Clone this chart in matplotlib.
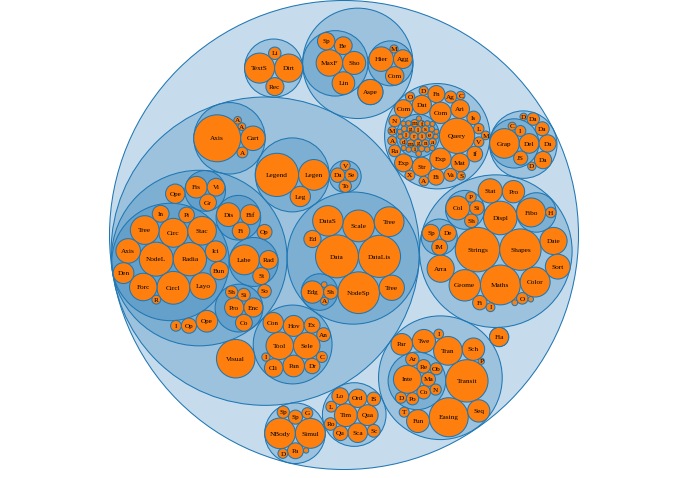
import math
import matplotlib
matplotlib.use("Agg")
import matplotlib.pyplot as plt
from matplotlib.patches import Circle

# ---------------- data (flare class hierarchy, sizes) ----------------
cluster_names = ["AgglomerativeCluster", "CommunityStructure", "HierarchicalCluster", "MergeEdge"]
cluster_sizes = [3938, 3812, 6714, 743]
graph_names = ["BetweennessCentrality", "LinkDistance", "MaxFlowMinCut", "ShortestPaths", "SpanningTree"]
graph_sizes = [3534, 5731, 7840, 5914, 3416]
optimization_names = ["AspectRatioBanker"]
optimization_sizes = [7074]

animate_names = ["Easing", "FunctionSequence", "ISchedulable", "Parallel", "Pause", "Scheduler",
                 "Sequence", "Transition", "Transitioner", "TransitionEvent", "Tween"]
animate_sizes = [17010, 5842, 1041, 5176, 449, 5593, 5534, 9201, 19975, 1116, 6006]
interpolate_names = ["ArrayInterpolator", "ColorInterpolator", "DateInterpolator", "Interpolator",
                     "MatrixInterpolator", "NumberInterpolator", "ObjectInterpolator",
                     "PointInterpolator", "RectangleInterpolator"]
interpolate_sizes = [1983, 2047, 1375, 8746, 2202, 1382, 1629, 1675, 2042]

converters_names = ["Converters", "DelimitedTextConverter", "GraphMLConverter", "IDataConverter", "JSONConverter"]
converters_sizes = [721, 4294, 9800, 1314, 2220]
data_names = ["DataField", "DataSchema", "DataSet", "DataSource", "DataTable", "DataUtil"]
data_sizes = [1759, 2165, 586, 3331, 772, 3322]

display_names = ["DirtySprite", "LineSprite", "RectSprite", "TextSprite"]
display_sizes = [8833, 1732, 3623, 10066]

flex_names = ["FlareVis"]
flex_sizes = [4116]

physics_names = ["DragForce", "GravityForce", "IForce", "NBodyForce", "Particle", "Simulation",
                 "Spring", "SpringForce"]
physics_sizes = [1082, 1336, 319, 10498, 2822, 9983, 2213, 1681]

query_names = ["AggregateExpression", "And", "Arithmetic", "Average", "BinaryExpression", "Comparison",
               "CompositeExpression", "Count", "DateUtil", "Distinct", "Expression", "ExpressionIterator",
               "Fn", "If", "IsA", "Literal", "Match", "Maximum", "Minimum", "Not", "Or", "Query",
               "Range", "StringUtil", "Sum", "Variable", "Variance", "Xor"]
query_sizes = [1616, 1027, 3891, 891, 2893, 5103, 3677, 781, 4141, 933, 5130, 3617, 3240, 2732,
               2039, 1214, 3748, 843, 843, 1554, 970, 13896, 1594, 4130, 791, 1124, 1876, 1101]
methods_names = ["add", "and", "average", "count", "distinct", "div", "eq", "fn", "gt", "gte", "iff",
                 "isa", "lt", "lte", "max", "min", "mod", "mul", "neq", "not", "or", "orderby",
                 "range", "select", "stddev", "sub", "sum", "update", "variance", "where", "xor", "_"]
methods_sizes = [593, 330, 287, 277, 292, 595, 594, 460, 603, 625, 748, 461, 597, 619, 283, 283,
                 591, 603, 599, 386, 323, 307, 772, 296, 363, 600, 280, 307, 335, 299, 354, 264]

scale_names = ["IScaleMap", "LinearScale", "LogScale", "OrdinalScale", "QuantileScale",
               "QuantitativeScale", "RootScale", "Scale", "ScaleType", "TimeScale"]
scale_sizes = [2105, 1316, 3151, 3770, 2435, 4839, 1756, 4268, 1821, 5833]

util_names = ["Arrays", "Colors", "Dates", "Displays", "Filter", "Geometry", "IEvaluable", "IPredicate",
              "IValueProxy", "Maths", "Orientation", "Property", "Shapes", "Sort", "Stats", "Strings"]
util_sizes = [8258, 10001, 8217, 12555, 2324, 10993, 335, 383, 874, 17705, 1486, 5559, 19118,
              6887, 6557, 22026]
heap_names = ["FibonacciHeap", "HeapNode"]
heap_sizes = [9354, 1233]
math_names = ["DenseMatrix", "IMatrix", "SparseMatrix"]
math_sizes = [3165, 2815, 3366]
palette_names = ["ColorPalette", "Palette", "ShapePalette", "SizePalette"]
palette_sizes = [6367, 1229, 2059, 2291]

axis_names = ["Axes", "Axis", "AxisGridLine", "AxisLabel", "CartesianAxes"]
axis_sizes = [1302, 24593, 652, 636, 6703]
controls_names = ["AnchorControl", "ClickControl", "Control", "ControlList", "DragControl",
                  "ExpandControl", "HoverControl", "IControl", "PanZoomControl", "SelectionControl",
                  "TooltipControl"]
controls_sizes = [2138, 3824, 1353, 4665, 2649, 2832, 4896, 763, 5222, 7862, 8435]
visdata_names = ["Data", "DataList", "DataSprite", "EdgeSprite", "NodeSprite", "ScaleBinding",
                 "Tree", "TreeBuilder"]
visdata_sizes = [20544, 19788, 10349, 3301, 19382, 11275, 7147, 9930]
render_names = ["ArrowType", "EdgeRenderer", "IRenderer", "ShapeRenderer"]
render_sizes = [698, 5569, 353, 2247]
events_names = ["DataEvent", "SelectionEvent", "TooltipEvent", "VisualizationEvent"]
events_sizes = [2313, 1880, 1701, 1117]
legend_names = ["Legend", "LegendItem", "LegendRange"]
legend_sizes = [20859, 4614, 10530]
distortion_names = ["BifocalDistortion", "Distortion", "FisheyeDistortion"]
distortion_sizes = [4461, 6314, 3444]
encoder_names = ["ColorEncoder", "Encoder", "PropertyEncoder", "ShapeEncoder", "SizeEncoder"]
encoder_sizes = [3179, 4060, 4138, 1690, 1830]
filter_names = ["FisheyeTreeFilter", "GraphDistanceFilter", "VisibilityFilter"]
filter_sizes = [5219, 3165, 3509]
operator_names = ["IOperator", "Operator", "OperatorList", "OperatorSequence", "OperatorSwitch",
                  "SortOperator"]
operator_sizes = [1286, 2490, 5248, 4190, 2581, 2023]
label_names = ["Labeler", "RadialLabeler", "StackedAreaLabeler"]
label_sizes = [9956, 3899, 3202]
layout_names = ["AxisLayout", "BundledEdgeRouter", "CircleLayout", "CirclePackingLayout",
                "DendrogramLayout", "ForceDirectedLayout", "IcicleTreeLayout", "IndentedTreeLayout",
                "Layout", "NodeLinkTreeLayout", "PieLayout", "RadialTreeLayout", "RandomLayout",
                "StackedAreaLayout", "TreeMapLayout"]
layout_sizes = [6725, 3727, 9317, 12003, 4853, 8411, 4864, 3174, 7881, 12870, 2728, 12348, 870,
                9121, 9191]
vis_names = ["Visualization"]
vis_sizes = [16540]

groups = [
    ("analytics/cluster", cluster_names, cluster_sizes),
    ("analytics/graph", graph_names, graph_sizes),
    ("analytics/optimization", optimization_names, optimization_sizes),
    ("animate", animate_names, animate_sizes),
    ("animate/interpolate", interpolate_names, interpolate_sizes),
    ("data/converters", converters_names, converters_sizes),
    ("data", data_names, data_sizes),
    ("display", display_names, display_sizes),
    ("flex", flex_names, flex_sizes),
    ("physics", physics_names, physics_sizes),
    ("query", query_names, query_sizes),
    ("query/methods", methods_names, methods_sizes),
    ("scale", scale_names, scale_sizes),
    ("util", util_names, util_sizes),
    ("util/heap", heap_names, heap_sizes),
    ("util/math", math_names, math_sizes),
    ("util/palette", palette_names, palette_sizes),
    ("vis/axis", axis_names, axis_sizes),
    ("vis/controls", controls_names, controls_sizes),
    ("vis/data", visdata_names, visdata_sizes),
    ("vis/data/render", render_names, render_sizes),
    ("vis/events", events_names, events_sizes),
    ("vis/legend", legend_names, legend_sizes),
    ("vis/operator/distortion", distortion_names, distortion_sizes),
    ("vis/operator/encoder", encoder_names, encoder_sizes),
    ("vis/operator/filter", filter_names, filter_sizes),
    ("vis/operator", operator_names, operator_sizes),
    ("vis/operator/label", label_names, label_sizes),
    ("vis/operator/layout", layout_names, layout_sizes),
    ("vis", vis_names, vis_sizes),
]


# ---------------- hierarchy ----------------
class Node:
    def __init__(self, name, value=0.0, leaf=False):
        self.name = name
        self.value = value
        self.leaf = leaf
        self.children = []
        self.x = 0.0
        self.y = 0.0
        self.r = 0.0


root = Node("flare")
index = {"": root}


def get_node(path):
    if path in index:
        return index[path]
    parts = path.split("/")
    parent = get_node("/".join(parts[:-1]))
    n = Node(parts[-1])
    parent.children.append(n)
    index[path] = n
    return n


for path, names, sizes in groups:
    p = get_node(path)
    for nm, sz in zip(names, sizes):
        p.children.append(Node(nm, sz, leaf=True))


def sum_sort(n):
    if n.children:
        n.value = sum(sum_sort(c) for c in n.children)
        n.children = sorted(n.children, key=lambda c: -c.value)
    return n.value


sum_sort(root)


# ---------------- d3.pack algorithm ----------------
class C:
    def __init__(self, x, y, r):
        self.x, self.y, self.r = x, y, r


class Link:
    def __init__(self, c):
        self.c = c
        self.next = None
        self.prev = None


def place(b, a, c):
    dx = b.x - a.x
    dy = b.y - a.y
    d2 = dx * dx + dy * dy
    if d2:
        a2 = (a.r + c.r) ** 2
        b2 = (b.r + c.r) ** 2
        if a2 > b2:
            x = (d2 + b2 - a2) / (2 * d2)
            y = math.sqrt(max(0.0, b2 / d2 - x * x))
            c.x = b.x - x * dx - y * dy
            c.y = b.y - x * dy + y * dx
        else:
            x = (d2 + a2 - b2) / (2 * d2)
            y = math.sqrt(max(0.0, a2 / d2 - x * x))
            c.x = a.x + x * dx - y * dy
            c.y = a.y + x * dy + y * dx
    else:
        c.x = a.x + c.r
        c.y = a.y


def intersects(a, b):
    dr = a.r + b.r - 1e-6
    dx = b.x - a.x
    dy = b.y - a.y
    return dr > 0 and dr * dr > dx * dx + dy * dy


def score(node):
    a = node.c
    b = node.next.c
    ab = a.r + b.r
    dx = (a.x * b.r + b.x * a.r) / ab
    dy = (a.y * b.r + b.y * a.r) / ab
    return dx * dx + dy * dy


def encloses_not(a, b):
    dr = a.r - b.r
    dx = b.x - a.x
    dy = b.y - a.y
    return dr < 0 or dr * dr < dx * dx + dy * dy


def encloses_weak(a, b):
    dr = a.r - b.r + max(a.r, b.r, 1) * 1e-9
    dx = b.x - a.x
    dy = b.y - a.y
    return dr > 0 and dr * dr > dx * dx + dy * dy


def encloses_weak_all(a, B):
    return all(encloses_weak(a, b) for b in B)


def basis1(a):
    return C(a.x, a.y, a.r)


def basis2(a, b):
    x1, y1, r1 = a.x, a.y, a.r
    x2, y2, r2 = b.x, b.y, b.r
    x21, y21, r21 = x2 - x1, y2 - y1, r2 - r1
    l = math.sqrt(x21 * x21 + y21 * y21)
    return C((x1 + x2 + x21 / l * r21) / 2, (y1 + y2 + y21 / l * r21) / 2, (l + r1 + r2) / 2)


def basis3(a, b, c):
    x1, y1, r1 = a.x, a.y, a.r
    x2, y2, r2 = b.x, b.y, b.r
    x3, y3, r3 = c.x, c.y, c.r
    a2 = x1 - x2
    a3 = x1 - x3
    b2 = y1 - y2
    b3 = y1 - y3
    c2 = r2 - r1
    c3 = r3 - r1
    d1 = x1 * x1 + y1 * y1 - r1 * r1
    d2 = d1 - x2 * x2 - y2 * y2 + r2 * r2
    d3 = d1 - x3 * x3 - y3 * y3 + r3 * r3
    ab = a3 * b2 - a2 * b3
    xa = (b2 * d3 - b3 * d2) / (ab * 2) - x1
    xb = (b3 * c2 - b2 * c3) / ab
    ya = (a3 * d2 - a2 * d3) / (ab * 2) - y1
    yb = (a2 * c3 - a3 * c2) / ab
    A = xb * xb + yb * yb - 1
    Bq = 2 * (r1 + xa * xb + ya * yb)
    Cq = xa * xa + ya * ya - r1 * r1
    if abs(A) > 1e-6:
        r = -((Bq + math.sqrt(max(0.0, Bq * Bq - 4 * A * Cq))) / (2 * A))
    else:
        r = -(Cq / Bq)
    return C(x1 + xa + xb * r, y1 + ya + yb * r, r)


def enclose_basis(B):
    if len(B) == 1:
        return basis1(B[0])
    if len(B) == 2:
        return basis2(B[0], B[1])
    return basis3(B[0], B[1], B[2])


def extend_basis(B, p):
    if encloses_weak_all(p, B):
        return [p]
    for i in range(len(B)):
        if encloses_not(p, B[i]) and encloses_weak_all(basis2(B[i], p), B):
            return [B[i], p]
    for i in range(len(B) - 1):
        for j in range(i + 1, len(B)):
            if (encloses_not(basis2(B[i], B[j]), p)
                    and encloses_not(basis2(B[i], p), B[j])
                    and encloses_not(basis2(B[j], p), B[i])
                    and encloses_weak_all(basis3(B[i], B[j], p), B)):
                return [B[i], B[j], p]
    return [p]


class LCG:
    def __init__(self):
        self.s = 1

    def __call__(self):
        self.s = (1664525 * self.s + 1013904223) % 4294967296
        return self.s / 4294967296


def shuffle(arr, rnd):
    m = len(arr)
    while m:
        i = int(rnd() * m)
        m -= 1
        arr[m], arr[i] = arr[i], arr[m]
    return arr


def enclose(circles, rnd):
    circles = shuffle(list(circles), rnd)
    n = len(circles)
    i = 0
    B = []
    e = None
    while i < n:
        p = circles[i]
        if e is not None and encloses_weak(e, p):
            i += 1
        else:
            B = extend_basis(B, p)
            e = enclose_basis(B)
            i = 0
    return e


def pack_siblings(circles, rnd):
    n = len(circles)
    if n == 0:
        return 0
    a = circles[0]
    a.x = 0.0
    a.y = 0.0
    if n == 1:
        return a.r
    b = circles[1]
    a.x = -b.r
    b.x = a.r
    b.y = 0.0
    if n == 2:
        return a.r + b.r
    place(b, a, circles[2])
    a, b, c = Link(a), Link(b), Link(circles[2])
    a.next = b
    c.prev = b
    b.next = c
    a.prev = c
    c.next = a
    b.prev = a
    i = 3
    while i < n:
        cc = circles[i]
        place(a.c, b.c, cc)
        c = Link(cc)
        j, k, sj, sk = b.next, a.prev, b.c.r, a.c.r
        restart = False
        while True:
            if sj <= sk:
                if intersects(j.c, c.c):
                    b = j
                    a.next = b
                    b.prev = a
                    restart = True
                    break
                sj += j.c.r
                j = j.next
            else:
                if intersects(k.c, c.c):
                    a = k
                    a.next = b
                    b.prev = a
                    restart = True
                    break
                sk += k.c.r
                k = k.prev
            if j is k.next:
                break
        if restart:
            continue
        c.prev = a
        c.next = b
        a.next = c
        b.prev = c
        b = c
        aa = score(a)
        c = c.next
        while c is not b:
            ca = score(c)
            if ca < aa:
                a = c
                aa = ca
            c = c.next
        b = a.next
        i += 1
    chain = [b.c]
    c = b.next
    while c is not b:
        chain.append(c.c)
        c = c.next
    e = enclose(chain, rnd)
    for cc in circles:
        cc.x -= e.x
        cc.y -= e.y
    return e.r


rnd = LCG()


def pack(n):
    if n.leaf:
        n.r = math.sqrt(n.value)
        return
    for ch in n.children:
        pack(ch)
    n.r = pack_siblings(n.children, rnd)


pack(root)


def absolute(n):
    for ch in n.children:
        ch.x += n.x
        ch.y += n.y
        absolute(ch)


absolute(root)

# breadth-first order, like root.descendants()
order = []
queue = [root]
while queue:
    n = queue.pop(0)
    order.append(n)
    queue.extend(n.children)

# ---------------- drawing ----------------
W, H = 692, 478
R = root.r
label_scale = 0.1503      # layout pixels per sqrt-size unit (for label truncation)
cx_px, cy_px, r_px = 344.0, 235.0, 234.5

fig = plt.figure(figsize=(W / 100, H / 100), dpi=100)
ax = fig.add_axes([0, 0, 1, 1])
ax.set_axis_off()
ax.set_xlim((0 - cx_px) * R / r_px, (W - cx_px) * R / r_px)
ax.set_ylim((H - cy_px) * R / r_px, (0 - cy_px) * R / r_px)

blue = (31 / 255, 119 / 255, 180 / 255)
fs = 5.2
for n in order:
    if n.leaf:
        fc = "#ff7f0e"
    else:
        fc = (blue[0], blue[1], blue[2], 0.25)
    ax.add_patch(Circle((n.x, n.y), n.r, facecolor=fc, edgecolor=blue, linewidth=0.75))
    if n.leaf:
        txt = n.name[:int(n.r * label_scale / 3)]
        if txt:
            ax.annotate(txt, (n.x, n.y), xytext=(0, -0.3 * fs), textcoords="offset points",
                        ha="center", va="baseline", fontsize=fs, family="Liberation Serif",
                        color="black")

fig.savefig("out.png", dpi=100, facecolor="white")
